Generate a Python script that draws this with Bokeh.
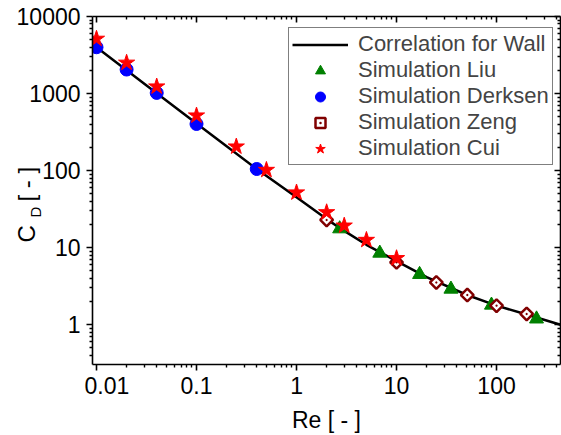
from bokeh.plotting import figure
from bokeh.layouts import row
from bokeh.models import (LogAxis, FixedTicker, Legend, LegendItem, Range1d, LinearScale)
from bokeh.core.properties import value
from bokeh.embed import file_html
from bokeh.resources import INLINE
import math

# ---- data ----
wall_re = [0.01, 0.02, 0.04, 0.1, 0.2, 0.4, 1, 2, 3, 5, 10, 20, 50, 100, 200, 436]
wall_cd = [4000, 2010, 1010, 408, 207, 105, 45, 23.5, 16.5, 10.9, 6.7, 4.15, 2.45, 1.77, 1.36, 1.0]

liu_re = [2.7, 6.8, 17, 35, 89, 251]
liu_cd = [17.6, 8.5, 4.5, 2.9, 1.8, 1.19]

derksen_re = [0.01, 0.02, 0.04, 0.1, 0.4]
derksen_cd = [3990, 2050, 1020, 403, 105]

zeng_re = [2, 10, 25, 51, 100, 200]
zeng_cd = [22.9, 6.45, 3.54, 2.43, 1.77, 1.38]

cui_re = [0.01, 0.02, 0.04, 0.1, 0.25, 0.5, 1, 2, 3, 5, 10]
cui_cd = [5130, 2510, 1233, 518, 205, 102, 52, 28.8, 19.3, 12.6, 7.3]

x_ticks = [0.01, 0.1, 1, 10, 100]
x_tick_labels = ["0.01", "0.1", "1", "10", "100"]
y_ticks = [1, 10, 100, 1000, 10000]
y_tick_labels = ["1", "10", "100", "1000", "10000"]

legend_labels = ["Correlation for Wall", "Simulation Liu", "Simulation Derksen",
                 "Simulation Zeng", "Simulation Cui"]

FONT = "Liberation Sans"
W, H = 561, 435
FL, FT, FB = 92, 16, 71          # frame left / top border, bottom border (px)
MB = 8                           # main figure's own left border (ticks only)
LW = FL - MB                     # strip holding y tick labels and the y title
Y0, Y1 = 0.305, 10000

def minors(lo_exp, hi_exp):
    return [k * 10.0 ** e for e in range(lo_exp, hi_exp + 1) for k in range(2, 10)]

x_minor = minors(-3, 2)
y_minor = minors(-1, 4)

p = figure(width=W - LW, height=H, x_axis_type="log", y_axis_type="log",
           x_range=(0.00912, 436), y_range=(Y0, Y1),
           output_backend="svg", toolbar_location=None,
           min_border_left=MB, min_border_right=1, min_border_top=FT, min_border_bottom=FB,
           background_fill_color="white", border_fill_color="white")
p.grid.visible = False
p.outline_line_color = None

def style_axis(ax, labels, ticks, tlabels, minor, tick_in, tick_out):
    ax.ticker = FixedTicker(ticks=ticks, minor_ticks=minor)
    ax.axis_line_width = 1.6
    ax.axis_line_color = "black"
    ax.major_tick_line_width = 1.6
    ax.minor_tick_line_width = 1.4
    ax.major_tick_in = tick_in
    ax.major_tick_out = tick_out
    ax.minor_tick_in = tick_in // 2
    ax.minor_tick_out = tick_out // 2
    if labels:
        ax.major_label_overrides = dict(zip(ticks, tlabels))
        ax.major_label_text_font = FONT
        ax.major_label_text_font_size = "23px"
        ax.major_label_text_color = "black"
        ax.major_label_standoff = 6
    else:
        ax.major_label_overrides = {t: "" for t in ticks}
        ax.major_label_text_font_size = "1px"
        ax.major_label_text_alpha = 0
        ax.major_label_standoff = 0

style_axis(p.xaxis[0], True, x_ticks, x_tick_labels, x_minor, 0, 6)
style_axis(p.yaxis[0], False, y_ticks, y_tick_labels, y_minor, 0, 6)
p.xaxis[0].axis_label = "Re [ - ]"
p.xaxis[0].axis_label_text_font = FONT
p.xaxis[0].axis_label_text_font_size = "23px"
p.xaxis[0].axis_label_text_font_style = "normal"
p.xaxis[0].axis_label_text_color = "black"
p.xaxis[0].axis_label_standoff = 10

top_ax = LogAxis()
style_axis(top_ax, False, x_ticks, x_tick_labels, x_minor, 6, 0)
p.add_layout(top_ax, "above")
right_ax = LogAxis()
style_axis(right_ax, False, y_ticks, y_tick_labels, y_minor, 6, 0)
p.add_layout(right_ax, "right")

r_line = p.line(wall_re, wall_cd, line_color="black", line_width=2.5)
r_liu = p.scatter(liu_re, liu_cd, marker="triangle", size=14,
                  fill_color="#008000", line_color="#008000")
r_der = p.scatter(derksen_re, derksen_cd, marker="circle", size=13,
                  fill_color="#0000FF", line_color="#0000FF")
r_zeng = p.scatter(zeng_re, zeng_cd, marker="square_dot", angle=math.pi / 4, size=9,
                   fill_color="white", line_color="#800000", line_width=2.5)
r_cui = p.scatter(cui_re, cui_cd, marker="star", size=17,
                  fill_color="#FF0000", line_color="#FF0000")

legend = Legend(items=[LegendItem(label=l, renderers=[r]) for l, r in
                       zip(legend_labels, [r_line, r_liu, r_der, r_zeng, r_cui])],
                location=(288 - FL, (H - FB) - 165),
                label_text_font=FONT, label_text_font_size="22px",
                glyph_width=56, glyph_height=25, label_height=25,
                label_standoff=10, spacing=0, padding=3,
                border_line_color="black", border_line_width=1.2,
                background_fill_alpha=1.0)
p.add_layout(legend)

# ---- left strip: y tick labels (log scale matched to the main frame) and rotated title ----
frame_h = H - FT - FB
decade_px = frame_h / (math.log10(Y1) - math.log10(Y0))
s_top = 10 ** (math.log10(Y1) + FT / decade_px)
s_bot = 10 ** (math.log10(Y0) - FB / decade_px)

t = figure(width=LW, height=H, x_range=Range1d(0, LW), y_range=Range1d(s_bot, s_top),
           y_axis_type="log", x_axis_location=None, y_axis_location=None,
           output_backend="svg", toolbar_location=None,
           min_border_left=0, min_border_right=0, min_border_top=0, min_border_bottom=0,
           background_fill_color="white", border_fill_color="white")
try:
    t.frame_align = False
    p.frame_align = False
except Exception:
    pass
t.grid.visible = False
t.outline_line_color = None
t.extra_y_ranges = {"px": Range1d(H, 0)}
t.extra_y_scales = {"px": LinearScale()}

t.text(x=[LW - 4] * len(y_ticks), y=y_ticks, text=y_tick_labels,
       text_font=value(FONT), text_font_size="23px", text_color="black",
       text_align="right", text_baseline="middle")

for txt, cx, cy, fs in [("C", 26, 242, "24px"), ("D", 35, 217, "15px"), ("[ - ]", 26, 201, "24px")]:
    t.text(x=[cx], y=[cy], text=[txt], angle=math.pi / 2, y_range_name="px",
           text_font=value(FONT), text_font_size=fs, text_color="black",
           text_align="left", text_baseline="alphabetic")

layout = row(t, p, spacing=0)
open("out.html", "w").write(file_html(layout, INLINE))
